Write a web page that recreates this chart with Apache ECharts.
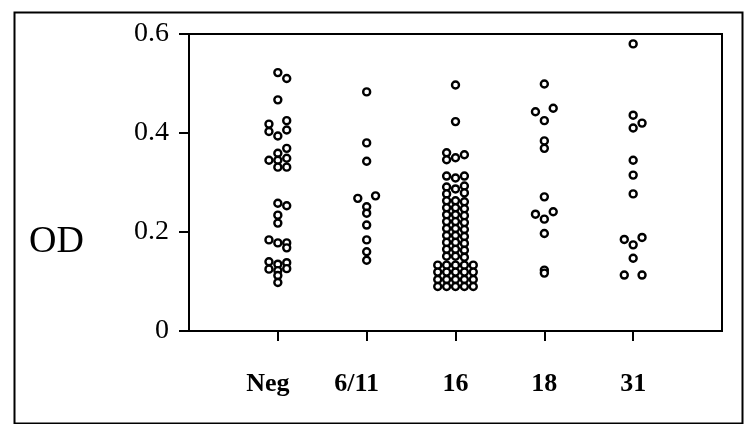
<!DOCTYPE html>
<html>
<head>
<meta charset="utf-8">
<script src="https://cdn.jsdelivr.net/npm/echarts@6/dist/echarts.min.js"></script>
<style>html,body{margin:0;padding:0;background:#fff}#c{width:744px;height:424px}</style>
</head>
<body>
<div id="c"></div>
<script>
// Categories (HPV types) and tick labels
const categories = ['Neg', '6/11', '16', '18', '31'];
const yTickValues = [0, 0.2, 0.4, 0.6];
const yTickLabels = ['0', '0.2', '0.4', '0.6'];
const yTitle = 'OD';

// Each point: [jitter column (-2..2), OD value]
const odNeg = [
  [0,0.522],[1,0.510],[0,0.467],
  [-1,0.418],[-1,0.403],[0,0.394],[1,0.425],[1,0.406],
  [1,0.369],[0,0.359],[-1,0.345],[0,0.345],[1,0.349],[0,0.331],[1,0.331],
  [0,0.258],[1,0.253],[0,0.234],[0,0.218],
  [-1,0.184],[0,0.178],[1,0.178],[1,0.168],
  [-1,0.140],[0,0.135],[1,0.138],[-1,0.125],[0,0.122],[1,0.126],[0,0.112],[0,0.098]
];
const od611 = [
  [0,0.483],[0,0.380],[0,0.343],[-1,0.268],[1,0.273],[0,0.251],[0,0.238],
  [0,0.214],[0,0.184],[0,0.160],[0,0.143]
];
const od16 = [
  [0,0.497],[0,0.423],
  [-1,0.360],[-1,0.346],[0,0.350],[1,0.356],
  [-1,0.313],[0,0.309],[1,0.313],
  [-1,0.291],[0,0.287],[1,0.293],[1,0.279],[-1,0.277],
  [-1,0.263],[0,0.263],[1,0.261],
  [-1,0.249],[0,0.249],[1,0.247],
  [-1,0.235],[0,0.235],[1,0.233],
  [-1,0.221],[0,0.221],[1,0.219],
  [-1,0.207],[0,0.207],[1,0.205],
  [-1,0.193],[0,0.193],[1,0.191],
  [-1,0.179],[0,0.179],[1,0.177],
  [-1,0.165],[0,0.165],[1,0.163],
  [-1,0.151],[0,0.151],[1,0.149],
  [-2,0.133],[-1,0.133],[0,0.133],[1,0.133],[2,0.133],
  [-2,0.119],[-1,0.119],[0,0.119],[1,0.119],[2,0.119],
  [-2,0.104],[-1,0.104],[0,0.104],[1,0.104],[2,0.104],
  [-2,0.090],[-1,0.090],[0,0.090],[1,0.090],[2,0.090]
];
const od18 = [
  [0,0.499],[-1,0.443],[1,0.450],[0,0.425],[0,0.384],[0,0.369],[0,0.271],
  [-1,0.236],[1,0.241],[0,0.226],[0,0.197],[0,0.123],[0,0.117]
];
const od31 = [
  [0,0.580],[0,0.436],[0,0.410],[1,0.420],[0,0.345],[0,0.315],[0,0.277],
  [-1,0.185],[1,0.189],[0,0.174],[0,0.147],[-1,0.113],[1,0.113]
];
const groups = [odNeg, od611, od16, od18, od31];

const JITTER = 0.1;
const points = [];
groups.forEach((g, i) => g.forEach(p => points.push([i + 1 + p[0] * JITTER, p[1]])));

const serif = '"Liberation Serif", "Times New Roman", serif';
const chart = echarts.init(document.getElementById('c'), null, {renderer: 'canvas'});
chart.setOption({
  animation: false,
  backgroundColor: '#fff',
  grid: {left: 189, right: 22, top: 34, bottom: 93, show: true, borderColor: '#000', borderWidth: 2, backgroundColor: 'transparent'},
  xAxis: {
    type: 'value', min: 0, max: categories.length + 1, interval: 1,
    splitLine: {show: false},
    axisLine: {show: true, lineStyle: {color: '#000', width: 2}},
    axisTick: {show: true, length: 10, lineStyle: {color: '#000', width: 2}, customValues: categories.map((c, i) => i + 1)},
    axisLabel: {
      customValues: categories.map((c, i) => i + 1),
      margin: 40,
      formatter: v => {
        const n = categories[Math.round(v) - 1] || '';
        return (n === 'Neg' || n === '6/11') ? '{s|' + n + '}' : '{n|' + n + '}';
      },
      rich: {
        s: {fontFamily: serif, fontWeight: 'bold', fontSize: 26, color: '#000', padding: [0, 20, 0, 0]},
        n: {fontFamily: serif, fontWeight: 'bold', fontSize: 26, color: '#000'}
      }
    }
  },
  yAxis: {
    type: 'value', min: 0, max: 0.6, interval: 0.2,
    splitLine: {show: false},
    axisLine: {show: true, lineStyle: {color: '#000', width: 2}},
    axisTick: {show: true, inside: false, length: 10, lineStyle: {color: '#000', width: 2}},
    axisLabel: {
      margin: 20, color: '#000', fontFamily: serif, fontSize: 28,
      formatter: v => { const k = yTickValues.findIndex(t => Math.abs(t - v) < 1e-9); return k >= 0 ? yTickLabels[k] : ''; }
    }
  },
  graphic: [
    {type: 'rect', left: 12, top: 10, shape: {width: 728, height: 411}, style: {fill: 'none', stroke: '#000', lineWidth: 2}, silent: true},
    {type: 'text', left: 29, top: 223, style: {text: yTitle, font: '38px ' + serif, fill: '#000'}}
  ],
  series: [{
    type: 'scatter',
    data: points,
    symbol: 'circle',
    symbolSize: 7,
    itemStyle: {color: '#fff', borderColor: '#000', borderWidth: 2.4, opacity: 1},
    emphasis: {disabled: true}
  }]
});
</script>
</body>
</html>
